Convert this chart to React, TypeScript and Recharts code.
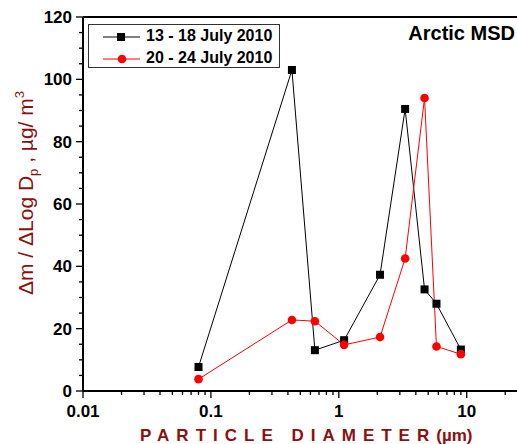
import React from 'react';
import {
  LineChart,
  Line,
  XAxis,
  YAxis,
  ReferenceLine,
} from 'recharts';

// particle diameters (µm) and mass size distributions
const diameters = [0.08, 0.43, 0.65, 1.1, 2.1, 3.3, 4.68, 5.8, 9.0];
const july13to18 = [7.7, 103, 13.1, 16.3, 37.3, 90.5, 32.6, 28.0, 13.3];
const july20to24 = [3.8, 22.8, 22.4, 14.8, 17.3, 42.5, 94.0, 14.3, 11.8];

const seriesNames = ['13 - 18 July 2010', '20 - 24 July 2010'];

const xTicks = [
  0.01, 0.02, 0.03, 0.04, 0.05, 0.06, 0.07, 0.08, 0.09,
  0.1, 0.2, 0.3, 0.4, 0.5, 0.6, 0.7, 0.8, 0.9,
  1, 2, 3, 4, 5, 6, 7, 8, 9,
  10, 20, 30,
];
const xMajor = [0.01, 0.1, 1, 10];
const xLabels = ['0.01', '0.1', '1', '10'];
const yTicks = [0, 5, 10, 15, 20, 25, 30, 35, 40, 45, 50, 55, 60, 65, 70, 75, 80, 85, 90, 95, 100, 105, 110, 115, 120];

const data = diameters.map((d, i) => ({ d, a: july13to18[i], b: july20to24[i] }));

const FONT = '"Liberation Sans", Arial, sans-serif';
const DARK_RED = '#8b1010';

const XTick = ({ x, y, payload }: any) => {
  const idx = xMajor.indexOf(payload.value);
  const major = idx >= 0;
  return (
    <g>
      <line x1={x} x2={x} y1={y} y2={y + (major ? 7 : 4)} stroke="#000" strokeWidth={1.3} />
      {major && (
        <text x={x} y={y + 26} textAnchor="middle" fontFamily={FONT} fontWeight="bold" fontSize={17} fill="#000">
          {xLabels[idx]}
        </text>
      )}
    </g>
  );
};

const YTick = ({ x, y, payload }: any) => {
  const major = payload.value % 20 === 0;
  return (
    <g>
      <line x1={x} x2={x - (major ? 7 : 4)} y1={y} y2={y} stroke="#000" strokeWidth={1.3} />
      {major && (
        <text x={x - 11} y={y + 6} textAnchor="end" fontFamily={FONT} fontWeight="bold" fontSize={17} fill="#000">
          {payload.value}
        </text>
      )}
    </g>
  );
};

const SquareDot = ({ cx, cy }: any) => (
  <rect x={cx - 4} y={cy - 4} width={8} height={8} fill="#000" />
);
const CircleDot = ({ cx, cy }: any) => <circle cx={cx} cy={cy} r={4.3} fill="#ff0000" />;

const LegendBox = () => (
  <div
    style={{
      position: 'absolute',
      left: 88,
      top: 24,
      width: 190,
      height: 42,
      border: '1.3px solid #333',
      background: '#fff',
      fontFamily: FONT,
    }}
  >
    {seriesNames.map((name, i) => (
      <div key={name} style={{ position: 'absolute', left: 0, top: i === 0 ? 3 : 25, height: 18, width: 190 }}>
        <svg width={40} height={18} style={{ position: 'absolute', left: 14, top: 0 }}>
          <line x1={0} x2={37} y1={9} y2={9} stroke={i === 0 ? '#000' : '#ff0000'} strokeWidth={1} />
          {i === 0 ? <rect x={14} y={5} width={8} height={8} fill="#000" /> : <circle cx={19} cy={9} r={4.3} fill="#ff0000" />}
        </svg>
        <span style={{ position: 'absolute', left: 57, top: -1, fontSize: 16, fontWeight: 'bold', color: '#000', whiteSpace: 'nowrap' }}>
          {name}
        </span>
      </div>
    ))}
  </div>
);

export default function App() {
  return (
    <div style={{ position: 'absolute', left: 0, top: 0, width: 517, height: 444, overflow: 'hidden', background: '#fff' }}>
      <LineChart width={540} height={444} data={data} margin={{ top: 17, right: 0, left: 0, bottom: 0 }}>
        <XAxis
          dataKey="d"
          type="number"
          scale="log"
          domain={[0.01, 37.4]}
          allowDataOverflow
          ticks={xTicks}
          interval={0}
          tickSize={0}
          tickMargin={0}
          tickLine={false}
          tick={<XTick />}
          axisLine={{ stroke: '#000', strokeWidth: 2 }}
          height={53}
        />
        <YAxis
          type="number"
          domain={[0, 120]}
          ticks={yTicks}
          interval={0}
          tickSize={0}
          tickMargin={0}
          tickLine={false}
          tick={<YTick />}
          axisLine={{ stroke: '#000', strokeWidth: 2 }}
          width={83}
        />
        <ReferenceLine y={120} stroke="#000" strokeWidth={2} />
        <Line
          dataKey="a"
          name={seriesNames[0]}
          stroke="#000"
          strokeWidth={1}
          dot={<SquareDot />}
          isAnimationActive={false}
        />
        <Line
          dataKey="b"
          name={seriesNames[1]}
          stroke="#ff0000"
          strokeWidth={1}
          dot={<CircleDot />}
          isAnimationActive={false}
        />
      </LineChart>
      <LegendBox />
      <svg width={517} height={444} style={{ position: 'absolute', left: 0, top: 0, pointerEvents: 'none' }}>
        <text x={515} y={40} textAnchor="end" fontFamily={FONT} fontWeight="bold" fontSize={20} fill="#000">
          Arctic MSD
        </text>
        <text transform="translate(33,295) rotate(-90)" fontFamily={FONT} fontSize={21} fill={DARK_RED}>
          Δm / ΔLog D
          <tspan dy={5} fontSize={13}>p</tspan>
          <tspan dy={-5}> , µg/ m</tspan>
          <tspan dy={-9} fontSize={13}>3</tspan>
        </text>
        <text x={140} y={441} fontFamily={FONT} fontWeight="bold" fontSize={17} fill={DARK_RED}>
          <tspan letterSpacing={7}>PARTICLE DIAMETER</tspan>
          <tspan letterSpacing={0}>(µm)</tspan>
        </text>
      </svg>
    </div>
  );
}
